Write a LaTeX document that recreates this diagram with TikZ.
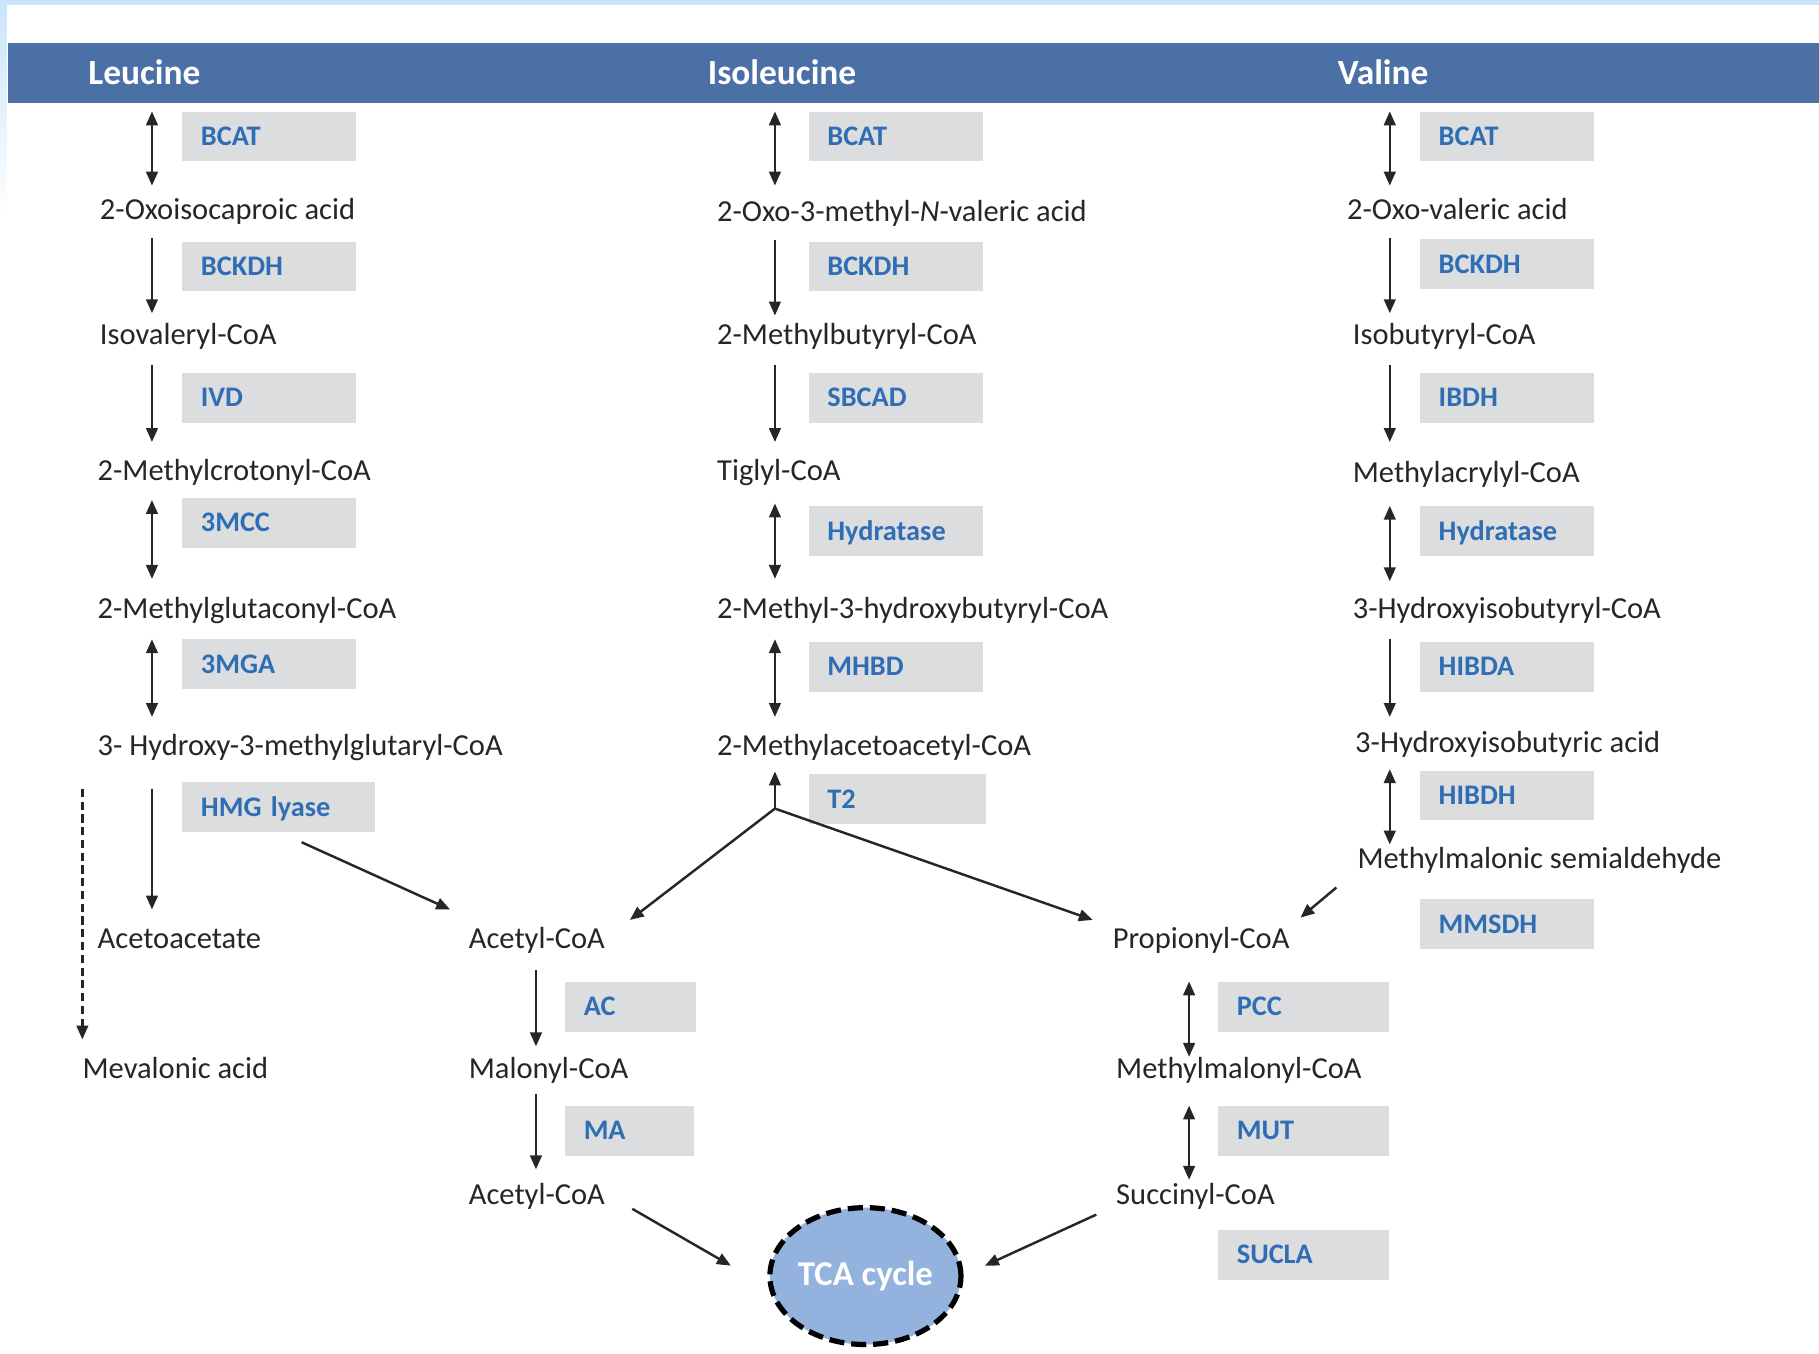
\documentclass[tikz,border=0pt]{standalone}
\usepackage{fontspec}
\setmainfont{Carlito}
\usetikzlibrary{arrows.meta,shapes.geometric}
\definecolor{hdr}{HTML}{4A70A6}
\definecolor{enzfill}{HTML}{DCDDDF}
\definecolor{enzblue}{HTML}{2F6EB5}
\definecolor{txt}{HTML}{262626}
\definecolor{tcafill}{HTML}{93B2DD}
\definecolor{edge}{HTML}{C9E4FB}

\begin{document}
\begin{tikzpicture}[x=1pt,y=-1pt,
  met/.style={anchor=base west, inner sep=0pt, text=txt, font=\fontsize{26.3}{31}\selectfont},
  hdrtxt/.style={anchor=base west, inner sep=0pt, text=white, font=\fontsize{30.5}{35}\selectfont\bfseries},
  enz/.style={anchor=north west, fill=enzfill, text=enzblue, font=\fontsize{24.4}{28}\selectfont\bfseries,
    inner xsep=16pt, inner ysep=0pt, text height=15.7pt, text depth=0pt, minimum height=43pt,
    text width=#1, align=left},
  enz/.default=118pt,
  rxn/.style={-{Triangle[length=12pt,width=10pt]}, line width=2.1pt, draw=txt},
  rev/.style={{Triangle[length=12pt,width=10pt]}-{Triangle[length=12pt,width=10pt]}, line width=2.1pt, draw=txt},
]
\useasboundingbox (0,0) rectangle (1568,1167);
\fill[white] (0,0) rectangle (1568,1167);
% pale frame at the top and upper left edge
\fill[edge] (0,0) rectangle (1568,4);
\shade[top color=edge, bottom color=white] (0,0) rectangle (6,190);

% header bar
\fill[hdr] (7,37) rectangle (1568,89);
\node[hdrtxt] (hLeu) at (76,73) {Leucine};
\node[hdrtxt] (hIle) at (610,73) {Isoleucine};
\node[hdrtxt] (hVal) at (1153,73) {Valine};

% ---------- Leucine branch ----------
\node[met] (m11) at (86,189) {2-Oxoisocaproic acid};
\node[met] (m12) at (86,297) {Isovaleryl-CoA};
\node[met] (m13) at (84,414) {2-Methylcrotonyl-CoA};
\node[met] (m14) at (84,533) {2-Methylglutaconyl-CoA};
\node[met] (m15) at (84,651) {3- Hydroxy-3-methylglutaryl-CoA};
\node[met] (m16) at (84,818) {Acetoacetate};
\node[met] (m17) at (71,930) {Mevalonic acid};

\node[enz] (e11) at (157,96) {BCAT};
\node[enz] (e12) at (157,208) {BCKDH};
\node[enz] (e13) at (157,321) {IVD};
\node[enz] (e14) at (157,429) {3MCC};
\node[enz] (e15) at (157,551) {3MGA};
\node[enz=134pt] (e16) at (157,674) {HMG lyase};

\coordinate (l0a) at (131,96);  \coordinate (l0b) at (131,160);
\coordinate (l1a) at (131,205); \coordinate (l1b) at (131,270);
\coordinate (l2a) at (131,315); \coordinate (l2b) at (131,381);
\coordinate (l3a) at (131,431); \coordinate (l3b) at (131,499);
\coordinate (l4a) at (131,551); \coordinate (l4b) at (131,618);
\coordinate (l5a) at (131,680); \coordinate (l5b) at (131,784);
\coordinate (lda) at (71,680);  \coordinate (ldb) at (71,896);
\coordinate (lha) at (260,726); \coordinate (lhb) at (388,784);
\draw[rev] (l0a) -- (l0b);
\draw[rxn] (l1a) -- (l1b);
\draw[rxn] (l2a) -- (l2b);
\draw[rev] (l3a) -- (l3b);
\draw[rev] (l4a) -- (l4b);
\draw[rxn] (l5a) -- (l5b);
\draw[rxn, dash pattern=on 7pt off 4pt] (lda) -- (ldb);
\draw[rxn] (lha) -- (lhb);

% ---------- Isoleucine branch ----------
\node[met] (m21) at (618,191) {2-Oxo-3-methyl-\textit{N}-valeric acid};
\node[met] (m22) at (618,297) {2-Methylbutyryl-CoA};
\node[met] (m23) at (618,414) {Tiglyl-CoA};
\node[met] (m24) at (618,533) {2-Methyl-3-hydroxybutyryl-CoA};
\node[met] (m25) at (618,651) {2-Methylacetoacetyl-CoA};

\node[enz] (e21) at (697,96) {BCAT};
\node[enz] (e22) at (697,208) {BCKDH};
\node[enz] (e23) at (697,321) {SBCAD};
\node[enz] (e24) at (697,436) {Hydratase};
\node[enz] (e25) at (697,553) {MHBD};
\node[enz=121pt] (e26) at (697,667) {T2};

\coordinate (i0a) at (668,96);  \coordinate (i0b) at (668,160);
\coordinate (i1a) at (668,207); \coordinate (i1b) at (668,272);
\coordinate (i2a) at (668,315); \coordinate (i2b) at (668,381);
\coordinate (i3a) at (668,434); \coordinate (i3b) at (668,499);
\coordinate (i4a) at (668,551); \coordinate (i4b) at (668,618);
\coordinate (t2j) at (668,697); \coordinate (t2u) at (668,665);
\coordinate (t2l) at (543,793); \coordinate (t2r) at (942,793);
\draw[rev] (i0a) -- (i0b);
\draw[rxn] (i1a) -- (i1b);
\draw[rxn] (i2a) -- (i2b);
\draw[rev] (i3a) -- (i3b);
\draw[rev] (i4a) -- (i4b);
\draw[rxn] (t2j) -- (t2u);
\draw[rxn] (t2j) -- (t2l);
\draw[rxn] (t2j) -- (t2r);

% ---------- Valine branch ----------
\node[met] (m31) at (1161,189) {2-Oxo-valeric acid};
\node[met] (m32) at (1166,297) {Isobutyryl-CoA};
\node[met] (m33) at (1166,416) {Methylacrylyl-CoA};
\node[met] (m34) at (1166,533) {3-Hydroxyisobutyryl-CoA};
\node[met] (m35) at (1168,649) {3-Hydroxyisobutyric acid};
\node[met] (m36) at (1170,749) {Methylmalonic semialdehyde};

\node[enz] (e31) at (1224,96) {BCAT};
\node[enz] (e32) at (1224,206) {BCKDH};
\node[enz] (e33) at (1224,321) {IBDH};
\node[enz] (e34) at (1224,436) {Hydratase};
\node[enz] (e35) at (1224,553) {HIBDA};
\node[enz] (e36) at (1224,664) {HIBDH};
\node[enz] (e37) at (1224,775) {MMSDH};

\coordinate (v0a) at (1198,96);  \coordinate (v0b) at (1198,160);
\coordinate (v1a) at (1198,205); \coordinate (v1b) at (1198,270);
\coordinate (v2a) at (1198,315); \coordinate (v2b) at (1198,381);
\coordinate (v3a) at (1198,436); \coordinate (v3b) at (1198,501);
\coordinate (v4a) at (1198,551); \coordinate (v4b) at (1198,618);
\coordinate (v5a) at (1198,663); \coordinate (v5b) at (1198,728);
\coordinate (v6a) at (1152,765); \coordinate (v6b) at (1121,791);
\draw[rev] (v0a) -- (v0b);
\draw[rxn] (v1a) -- (v1b);
\draw[rxn] (v2a) -- (v2b);
\draw[rev] (v3a) -- (v3b);
\draw[rxn] (v4a) -- (v4b);
\draw[rev] (v5a) -- (v5b);
\draw[rxn] (v6a) -- (v6b);

% ---------- acetyl-CoA route ----------
\node[met] (a1) at (404,818) {Acetyl-CoA};
\node[met] (a2) at (404,930) {Malonyl-CoA};
\node[met] (a3) at (404,1038) {Acetyl-CoA};
\node[enz=81pt] (ea1) at (487,846) {AC};
\node[enz=79pt] (ea2) at (487,953) {MA};
\coordinate (c1a) at (462,836); \coordinate (c1b) at (462,902);
\coordinate (c2a) at (462,943); \coordinate (c2b) at (462,1008);
\draw[rxn] (c1a) -- (c1b);
\draw[rxn] (c2a) -- (c2b);

% ---------- propionyl-CoA route ----------
\node[met] (p1) at (959,818) {Propionyl-CoA};
\node[met] (p2) at (962,930) {Methylmalonyl-CoA};
\node[met] (p3) at (962,1038) {Succinyl-CoA};
\node[enz=115pt] (ep1) at (1050,846) {PCC};
\node[enz=115pt] (ep2) at (1050,953) {MUT};
\node[enz=115pt] (ep3) at (1050,1060) {SUCLA};
\coordinate (d1a) at (1025,846); \coordinate (d1b) at (1025,911);
\coordinate (d2a) at (1025,953); \coordinate (d2b) at (1025,1017);
\draw[rev] (d1a) -- (d1b);
\draw[rev] (d2a) -- (d2b);

% ---------- TCA cycle ----------
\node[ellipse, draw=black, fill=tcafill, line width=4.5pt, dash pattern=on 13pt off 6pt,
      minimum width=164pt, minimum height=118pt, inner sep=0pt, text=white,
      font=\fontsize{30}{34}\selectfont\bfseries] (tca) at (746,1100) {TCA cycle};
\coordinate (ta) at (545,1042); \coordinate (tai) at (630,1091);
\coordinate (tb) at (945,1047); \coordinate (tbi) at (849,1091);
\draw[rxn] (ta) -- (tai);
\draw[rxn] (tb) -- (tbi);
\end{tikzpicture}
\end{document}
